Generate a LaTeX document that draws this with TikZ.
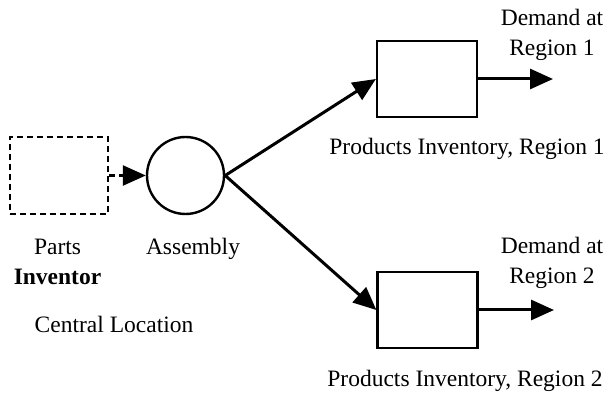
\documentclass[tikz,border=0pt]{standalone}
\usepackage{fontspec}
\setmainfont{Liberation Serif}
\usetikzlibrary{arrows.meta}
\begin{document}
\begin{tikzpicture}[x=1pt,y=-1pt,
  lbl/.style={font=\fontsize{23.5}{30}\selectfont,inner sep=0pt,align=center},
  invbox/.style={draw,line width=2.2pt,minimum width=100pt,minimum height=76pt,inner sep=0pt},
  flow/.style={line width=3pt,-{Triangle[length=23pt,width=20pt]}},
]
\useasboundingbox (0,0) rectangle (613,403);
% nodes
\node[invbox,dashed,dash pattern=on 6pt off 4pt,minimum width=98pt,minimum height=77pt] (pi) at (59,175.5) {};
\node[draw,circle,line width=2.4pt,minimum size=77pt,inner sep=0pt] (asm) at (185.5,175.5) {};
\node[invbox] (r1) at (427,79) {};
\node[invbox] (r2) at (427.5,310) {};
\coordinate (d1) at (553,79);
\coordinate (d2) at (554,310);
% connectors
\draw[flow,dashed,dash pattern=on 6pt off 4pt,line width=2.5pt] (pi.east) -- (asm.west);
\draw[flow] (asm.east) -- (r1.west);
\draw[flow] (asm.east) -- (r2.west);
\draw[flow] (r1.east) -- (d1);
\draw[flow] (r2.east) -- (d2);
% labels
\node[lbl,anchor=north] (dem1) at (552,9) {Demand at\\Region 1};
\node[lbl,anchor=north] (dem2) at (552,237) {Demand at\\Region 2};
\node[lbl,anchor=base] (p1) at (467,155) {Products Inventory, Region 1};
\node[lbl,anchor=base] (p2) at (465,386) {Products Inventory, Region 2};
\node[lbl,anchor=north] (parts) at (57.5,239) {Parts\\\textbf{Inventor}};
\node[lbl,anchor=base] (asml) at (193,255) {Assembly};
\node[lbl,anchor=base] (cl) at (114,332) {Central Location};
\end{tikzpicture}
\end{document}
